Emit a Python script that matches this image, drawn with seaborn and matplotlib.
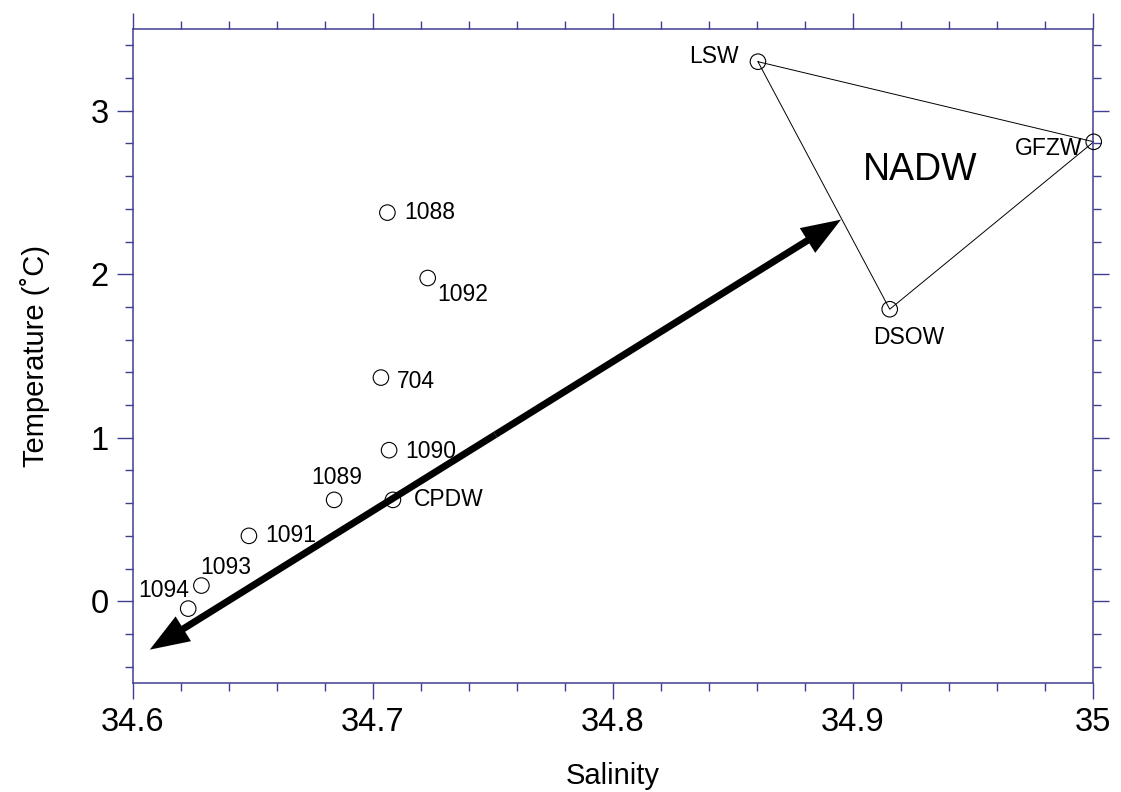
import matplotlib
matplotlib.use("Agg")
import matplotlib.pyplot as plt
from matplotlib.patches import FancyArrowPatch
from matplotlib.ticker import MultipleLocator
import seaborn as sns
import pandas as pd

# Data
station_labels = ["1088", "1092", "704", "1090", "1089", "CPDW", "1091", "1093", "1094"]
station_salinity = [34.706, 34.7228, 34.7033, 34.7067, 34.6838, 34.7083, 34.6483, 34.6285, 34.623]
station_temperature = [2.377, 1.977, 1.368, 0.924, 0.62, 0.62, 0.40, 0.096, -0.045]

endmember_labels = ["LSW", "GFZW", "DSOW"]
endmember_salinity = [34.8604, 35.0003, 34.9153]
endmember_temperature = [3.30, 2.81, 1.786]

arrow_start = (34.607, -0.296)
arrow_end = (34.895, 2.334)

nadw_label = "NADW"
nadw_pos = (34.928, 2.636)

xticks = [34.6, 34.7, 34.8, 34.9, 35.0]
xticklabels = ["34.6", "34.7", "34.8", "34.9", "35"]
yticks = [0, 1, 2, 3]

# label offsets in points (style)
station_offsets = {
    "1088": ((12, 0), "left", "center"),
    "1092": ((7, -12), "left", "center"),
    "704": ((11.5, -3), "left", "center"),
    "1090": ((12, -1), "left", "center"),
    "1089": ((2, 16), "center", "center"),
    "CPDW": ((15, 0), "left", "center"),
    "1091": ((11.5, 0), "left", "center"),
    "1093": ((-1, 13), "left", "center"),
    "1094": ((0.5, 13), "right", "center"),
}
endmember_offsets = {
    "LSW": ((-14, 4), "right", "center"),
    "GFZW": ((-8.5, -4.5), "right", "center"),
    "DSOW": ((14, -20), "center", "center"),
}

sns.set_theme(style="white")
plt.rcParams["font.family"] = ["Liberation Sans", "DejaVu Sans"]
spine_color = "#3f3f8f"

fig = plt.figure(figsize=(11.21, 7.92), dpi=100)
ax = fig.add_axes([133 / 1121, 1 - 683 / 792, (1093 - 133) / 1121, (683 - 29) / 792])

# triangle
tri_x = endmember_salinity + [endmember_salinity[0]]
tri_y = endmember_temperature + [endmember_temperature[0]]
ax.plot(tri_x, tri_y, color="black", lw=0.7, zorder=2, clip_on=False)

df_st = pd.DataFrame({"sal": station_salinity, "temp": station_temperature})
df_em = pd.DataFrame({"sal": endmember_salinity, "temp": endmember_temperature})
for d in (df_st, df_em):
    sns.scatterplot(data=d, x="sal", y="temp", ax=ax, marker="o", s=125,
                    facecolor="none", edgecolor="black", linewidth=0.8, zorder=3,
                    clip_on=False)

for lab, sx, ty in zip(station_labels, station_salinity, station_temperature):
    off, ha, va = station_offsets[lab]
    ax.annotate(lab, (sx, ty), xytext=off, textcoords="offset points",
                ha=ha, va=va, fontsize=16.5, color="black", zorder=4,
                annotation_clip=False)
for lab, sx, ty in zip(endmember_labels, endmember_salinity, endmember_temperature):
    off, ha, va = endmember_offsets[lab]
    ax.annotate(lab, (sx, ty), xytext=off, textcoords="offset points",
                ha=ha, va=va, fontsize=16.5, color="black", zorder=4,
                annotation_clip=False)

ax.text(nadw_pos[0], nadw_pos[1], nadw_label, fontsize=27, ha="center", va="center",
        color="black", zorder=4)

# double-headed arrow: two halves from the midpoint
mid = ((arrow_start[0] + arrow_end[0]) / 2, (arrow_start[1] + arrow_end[1]) / 2)
style = "simple,head_length=1.42,head_width=1.05,tail_width=0.25"
for tip in (arrow_start, arrow_end):
    ax.add_patch(FancyArrowPatch(mid, tip, arrowstyle=style, mutation_scale=20,
                                 color="black", lw=0, shrinkA=0, shrinkB=0, zorder=5))

ax.set_xlim(34.6, 35.0)
ax.set_ylim(-0.5, 3.5)
ax.set_xticks(xticks)
ax.set_xticklabels(xticklabels)
ax.set_yticks(yticks)
ax.xaxis.set_minor_locator(MultipleLocator(0.02))
ax.yaxis.set_minor_locator(MultipleLocator(0.2))

for s in ax.spines.values():
    s.set_visible(True)
    s.set_color(spine_color)
    s.set_linewidth(1.1)

ax.tick_params(which="both", direction="out", color=spine_color, width=1.0,
               top=True, right=True, bottom=True, left=True,
               labeltop=False, labelright=False)
ax.tick_params(which="major", length=11.5, labelsize=23.5, labelcolor="black", pad=6)
ax.tick_params(which="minor", length=6)

ax.set_xlabel("Salinity", fontsize=21, color="black", labelpad=17)
ax.set_ylabel("Temperature (˚C)", fontsize=21, color="black", labelpad=29)
ax.grid(False)

fig.savefig("out.png", dpi=100)
